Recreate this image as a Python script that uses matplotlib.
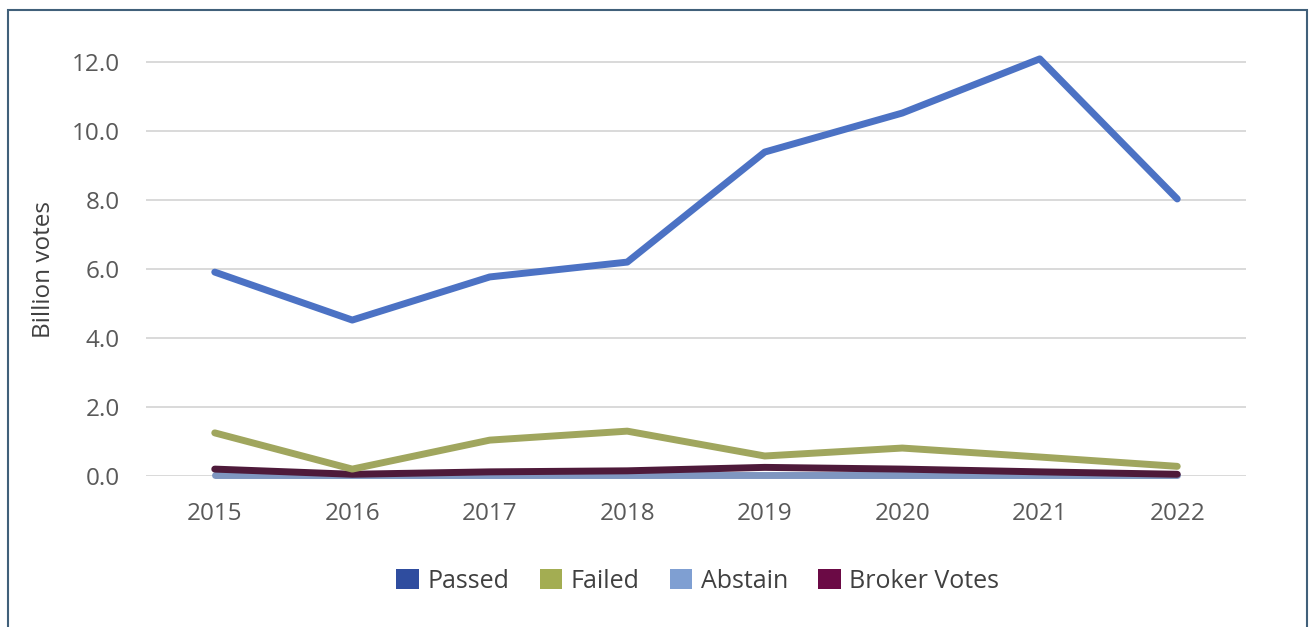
import matplotlib
matplotlib.use("Agg")
import matplotlib.pyplot as plt
from matplotlib.patches import Patch, Rectangle

plt.rcParams['font.family'] = ['Open Sans', 'DejaVu Sans']

years = [2015, 2016, 2017, 2018, 2019, 2020, 2021, 2022]
passed = [5.91, 4.52, 5.77, 6.20, 9.39, 10.52, 12.09, 8.03]
failed = [1.25, 0.20, 1.04, 1.30, 0.58, 0.81, 0.55, 0.28]
abstain = [0.02, 0.02, 0.02, 0.02, 0.02, 0.02, 0.02, 0.02]
broker = [0.20, 0.05, 0.12, 0.15, 0.25, 0.20, 0.12, 0.05]

series_names = ["Passed", "Failed", "Abstain", "Broker Votes"]
line_colors = ["#4c72c4", "#a0a65e", "#7f96c0", "#4e1a3a"]
legend_colors = ["#2f4d9f", "#a3ad52", "#7f9fd2", "#6b0a45"]
yticks = [0, 2, 4, 6, 8, 10, 12]

fig = plt.figure(figsize=(13.16, 6.27), dpi=100)
ax = fig.add_axes([146 / 1316, 151 / 627, 1100 / 1316, 13 * 34.5 / 627])

# draw order: failed / passed on top, abstain at the bottom
for vals, c, z in [(abstain, line_colors[2], 4), (broker, line_colors[3], 5),
                   (failed, line_colors[1], 6), (passed, line_colors[0], 7)]:
    ax.plot(years, vals, color=c, lw=5.0, solid_capstyle='round',
            solid_joinstyle='round', zorder=z, clip_on=False)

ax.set_xlim(2014.5, 2022.5)
ax.set_ylim(0, 13)
ax.set_yticks(yticks)
ax.set_yticklabels([f"{v:.1f}" for v in yticks])
ax.set_xticks(years)
ax.tick_params(axis='both', length=0, labelsize=17.5, labelcolor="#595959")
ax.tick_params(axis='x', pad=19)
ax.tick_params(axis='y', pad=19)
ax.grid(axis='y', color="#d9d9d9", lw=1.4)
ax.set_axisbelow(True)
for s in ax.spines.values():
    s.set_visible(False)

fig.text(44 / 1316, 1 - 269 / 627, "Billion votes", rotation=90, ha='center',
         va='center', fontsize=17.5, color="#404040")

handles = [Patch(facecolor=c, edgecolor='none') for c in legend_colors]
fig.legend(handles, series_names, loc='center', bbox_to_anchor=(698 / 1316, 1 - 581 / 627),
           ncol=4, frameon=False, fontsize=18, handlelength=0.9, handleheight=0.9,
           handletextpad=0.35, columnspacing=1.2, labelcolor="#404040")

fig.patches.append(Rectangle((8 / 1316, -0.02), 1299 / 1316, 1.02 - 10 / 627,
                             transform=fig.transFigure, fill=False,
                             edgecolor="#41607a", lw=1.5))

fig.savefig("out.png", dpi=100)
